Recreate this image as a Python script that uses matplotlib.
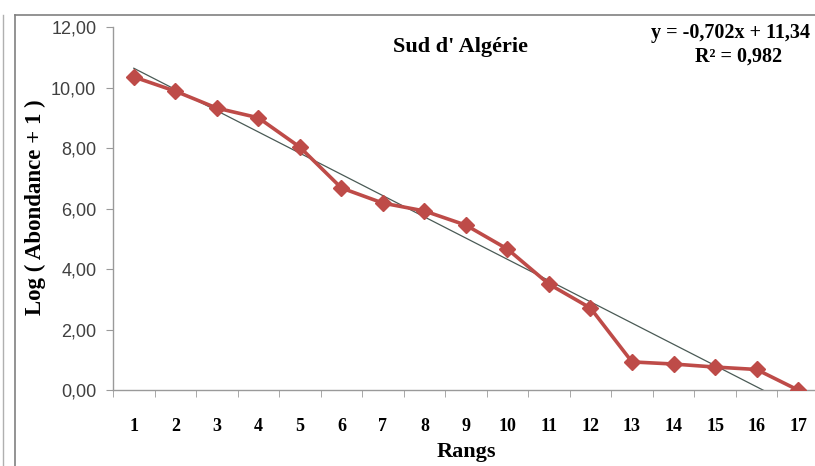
import numpy as np
import matplotlib.pyplot as plt
from matplotlib.lines import Line2D

# data
rangs = list(range(1, 18))
log_abond = [10.35, 9.88, 9.32, 9.00, 8.03, 6.68, 6.18, 5.92, 5.45, 4.66,
             3.50, 2.71, 0.93, 0.86, 0.76, 0.68, 0.00]
slope = -0.702
intercept = 11.34
y_ticks = [0, 2, 4, 6, 8, 10, 12]

serif = ['Liberation Serif', 'DejaVu Serif']
W, H = 815, 466

fig = plt.figure(figsize=(8.15, 4.66), dpi=100)
ax = fig.add_axes([0.1387, 0.163, 0.866, 0.779])

x = np.array(rangs)
ax.plot(x, log_abond, color='#BE4B48', lw=2.6, marker='D', markersize=8,
        markerfacecolor='#BE4B48', markeredgecolor='#BE4B48', zorder=3)
xt = np.linspace(rangs[0], rangs[-1], 200)
ax.plot(xt, slope * xt + intercept, color='#4a5a55', lw=0.9, zorder=2)

ax.set_xlim(0.5, 17.5)
ax.set_ylim(0, 12)
ax.set_yticks(y_ticks)
ax.yaxis.set_major_formatter(plt.FuncFormatter(lambda v, p: ('%.2f' % v).replace('.', ',')))
ax.tick_params(axis='y', length=5, color='#9a9a9a', direction='out', pad=7,
               labelsize=13, labelcolor='#404040', labelfontfamily='Liberation Sans')
ax.set_xticks(rangs)
ax.set_xticklabels([str(r) for r in rangs], fontsize=13, fontweight='bold', family=serif)
ax.set_xticks(np.arange(0.5, 18, 1), minor=True)
ax.tick_params(axis='x', which='major', length=0, pad=20)
ax.tick_params(axis='x', which='minor', length=5, color='#9a9a9a', direction='out')

for s in ['top', 'right']:
    ax.spines[s].set_visible(False)
for s in ['left', 'bottom']:
    ax.spines[s].set_color('#9a9a9a')
    ax.spines[s].set_linewidth(1.0)

fig.text(35 / W, 1 - 207 / H, 'Log ( Abondance + 1 )', rotation=90, fontsize=16.5,
         fontweight='bold', family=serif, ha='center', va='center')
fig.text(466 / W, 1 - 452 / H, 'Rangs', fontsize=16, fontweight='bold', family=serif,
         ha='center', va='center')

fig.text(461 / W, 1 - 47 / H, "Sud d' Algérie", fontsize=16, fontweight='bold', family=serif,
         ha='center', va='center')
fig.text(651 / W, 1 - 33 / H, 'y = -0,702x + 11,34', fontsize=14.5, fontweight='bold', family=serif,
         ha='left', va='center')
fig.text(739 / W, 1 - 57 / H, 'R² = 0,982', fontsize=14.5, fontweight='bold', family=serif,
         ha='center', va='center')

# outer frame lines
fig.add_artist(Line2D([15 / W, 15 / W], [0, 1 - 15 / H], color='#808080', lw=1.2))
fig.add_artist(Line2D([15 / W, 1], [1 - 15 / H, 1 - 15 / H], color='#808080', lw=1.2))
fig.add_artist(Line2D([3 / W, 3 / W], [0, 1 - 15 / H], color='#b0b0b0', lw=1.0))

fig.savefig('out.png', dpi=100)
